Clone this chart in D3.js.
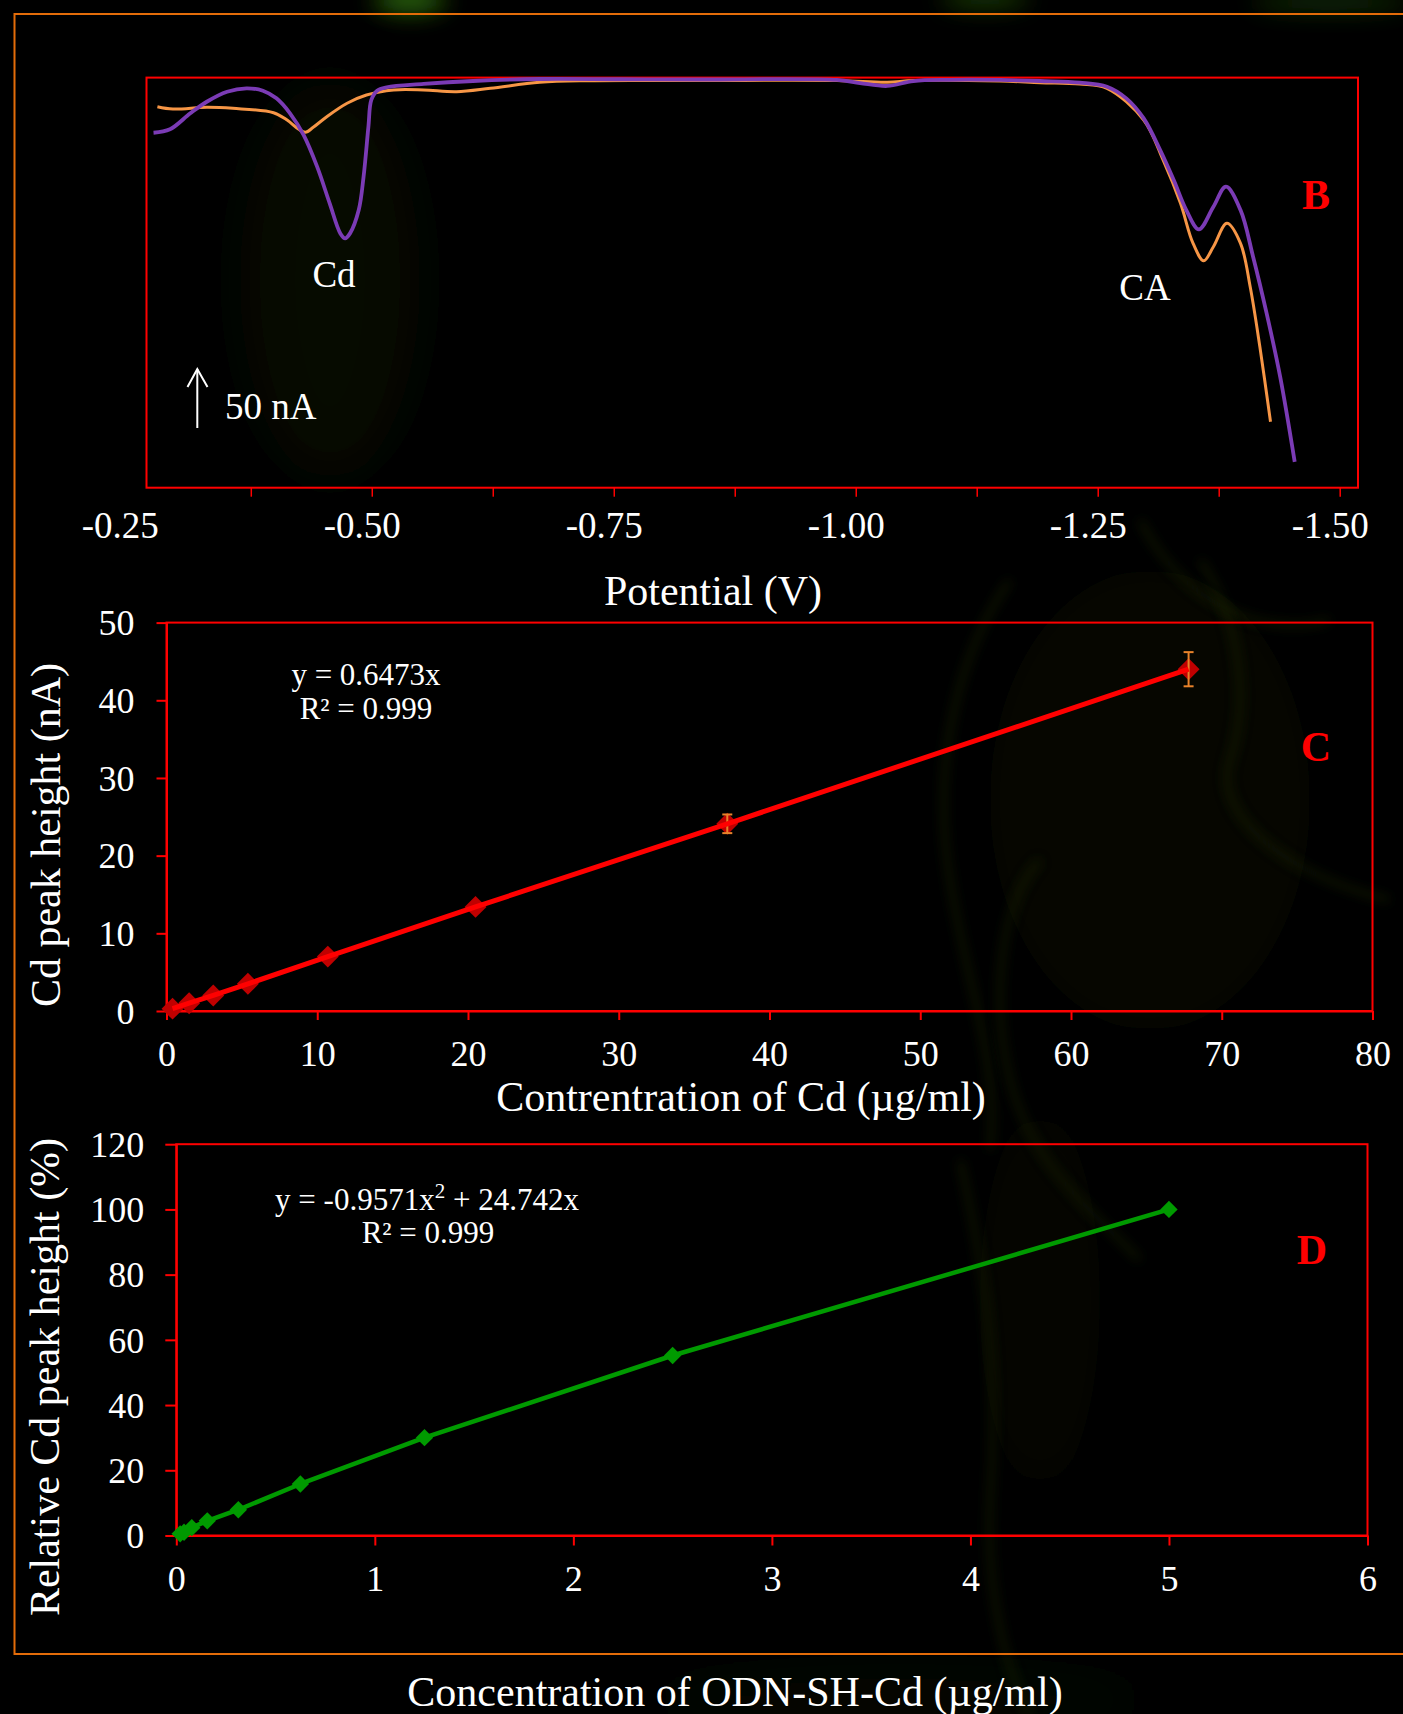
<!DOCTYPE html>
<html>
<head>
<meta charset="utf-8">
<script src="https://cdn.jsdelivr.net/npm/d3@7"></script>
<style>
  html, body { margin: 0; padding: 0; background: #000; }
  svg { display: block; }
  text { font-family: "Liberation Serif", "Times New Roman", Times, serif; }
</style>
</head>
<body>
<svg id="fig" width="1403" height="1714"></svg>
<script>
// ---------- Panel B: stripping voltammograms (potential in V, current in nA, baseline at 0) ----------
const controlPotential = [-0.278, -0.294, -0.329, -0.356, -0.398, -0.412, -0.424, -0.431, -0.439, -0.453,
  -0.474, -0.494, -0.522, -0.553, -0.587, -0.622, -0.673, -0.722, -0.839, -0.980, -1.032, -1.059, -1.149,
  -1.190, -1.231, -1.259, -1.297, -1.317, -1.335, -1.348, -1.359, -1.369, -1.383, -1.397, -1.407, -1.417, -1.428];
const controlCurrent = [-24.7, -26.7, -25.2, -26.1, -29.8, -36.0, -43.9, -46.4, -42.2, -33.2,
  -21.8, -14.8, -10.5, -10.5, -12.0, -9.1, -4.0, -2.6, -2.5, -2.5, -4.0, -2.5, -2.9,
  -4.3, -5.4, -9.1, -36.0, -69.9, -106.7, -140.7, -155.4, -143.5, -123.7, -140.7, -177.5, -228.4, -292.1];

const samplePotential = [-0.274, -0.291, -0.312, -0.329, -0.350, -0.370, -0.387, -0.401, -0.415, -0.429,
  -0.443, -0.456, -0.467, -0.472, -0.477, -0.486, -0.491, -0.496, -0.499, -0.505, -0.515, -0.553, -0.604,
  -0.673, -0.756, -0.839, -0.980, -1.004, -1.032, -1.059, -1.097, -1.149, -1.190, -1.231, -1.259, -1.279,
  -1.297, -1.314, -1.328, -1.341, -1.354, -1.369, -1.382, -1.397, -1.410, -1.424, -1.438, -1.453];
const sampleCurrent = [-46.8, -43.9, -30.3, -20.5, -12.0, -9.1, -11.1, -17.6, -30.3, -48.7,
  -75.6, -106.7, -132.2, -136.4, -132.2, -112.4, -84.1, -41.7, -19.0, -11.1, -8.2, -5.4, -2.9,
  -1.2, -1.4, -1.6, -2.0, -4.6, -7.1, -2.9, -1.9, -2.0, -2.9, -4.3, -7.7, -17.6,
  -34.6, -61.5, -86.9, -112.4, -128.8, -109.6, -92.6, -112.4, -152.0, -200.1, -253.9, -326.1];

const potentialTickLabels = [-0.25, -0.50, -0.75, -1.00, -1.25, -1.50];
const potentialTickMarks = [-0.375, -0.5, -0.625, -0.75, -0.875, -1.0, -1.125, -1.25, -1.375, -1.5];
const scaleBarCurrent = 50; // nA

// ---------- Panel C: Cd calibration ----------
const cdConcentration = [0.4, 1.5, 3.1, 5.4, 10.7, 20.5, 37.2, 67.8];
const cdPeakHeight    = [0.3, 1.0, 2.0, 3.5, 7.0, 13.4, 24.1, 44.0];
const cdPeakError     = [0, 0, 0, 0, 0, 0, 1.2, 2.2];
const cdXTicks = [0, 10, 20, 30, 40, 50, 60, 70, 80];
const cdYTicks = [0, 10, 20, 30, 40, 50];

// ---------- Panel D: ODN-SH-Cd calibration ----------
const odnConcentration = [0.0195, 0.039, 0.078, 0.156, 0.3125, 0.625, 1.25, 2.5, 5];
const relativePeak     = [0.5, 1.0, 2.4, 4.5, 7.9, 15.8, 30.0, 55.2, 100];
const odnXTicks = [0, 1, 2, 3, 4, 5, 6];
const odnYTicks = [0, 20, 40, 60, 80, 100, 120];

// ---------- colours ----------
const RED = "#ff0000";
const FRAME = "#e36c09";
const WHITE = "#ffffff";

const svg = d3.select("#fig");

// ---------- backdrop: black with faint green smoke ----------
svg.append("rect").attr("width", 1403).attr("height", 1714).attr("fill", "#000");
const defs = svg.append("defs");
defs.append("filter").attr("id", "soft").attr("filterUnits", "userSpaceOnUse")
  .attr("x", -200).attr("y", -200).attr("width", 1800).attr("height", 2100)
  .append("feGaussianBlur").attr("stdDeviation", 30);
defs.append("filter").attr("id", "glow").attr("filterUnits", "userSpaceOnUse")
  .attr("x", -200).attr("y", -200).attr("width", 1800).attr("height", 2100)
  .append("feGaussianBlur").attr("stdDeviation", 12);
defs.append("filter").attr("id", "softer").attr("filterUnits", "userSpaceOnUse")
  .attr("x", -200).attr("y", -200).attr("width", 1800).attr("height", 2100)
  .append("feGaussianBlur").attr("stdDeviation", 6);

const smoke = svg.append("g").attr("pointer-events", "none");
const topGlows = [
  { cx: 410, cy: 0, rx: 36, ry: 12, c: "#3a8a10", o: 0.8 },
  { cx: 985, cy: -2, rx: 45, ry: 9, c: "#2f7010", o: 0.6 },
  { cx: 1330, cy: 2, rx: 80, ry: 10, c: "#1e4a0a", o: 0.6 }
];
smoke.selectAll("ellipse.top").data(topGlows).join("ellipse").attr("class", "top")
  .attr("cx", d => d.cx).attr("cy", d => d.cy).attr("rx", d => d.rx).attr("ry", d => d.ry)
  .attr("fill", d => d.c).attr("opacity", d => d.o).attr("filter", "url(#glow)");
const hazeBlobs = [
  { cx: 330, cy: 280, rx: 90, ry: 200, c: "#0b1303", o: 0.5 },
  { cx: 1150, cy: 800, rx: 160, ry: 230, c: "#0a1003", o: 0.5 },
  { cx: 1040, cy: 1300, rx: 60, ry: 190, c: "#090f03", o: 0.45 },
  { cx: 900, cy: 1700, rx: 260, ry: 25, c: "#0c1604", o: 0.5 }
];
smoke.selectAll("ellipse.haze").data(hazeBlobs).join("ellipse").attr("class", "haze")
  .attr("cx", d => d.cx).attr("cy", d => d.cy).attr("rx", d => d.rx).attr("ry", d => d.ry)
  .attr("fill", d => d.c).attr("opacity", d => d.o).attr("filter", "url(#soft)");
// faint smoke outlines on the right
const smokeStrokes = [
  "M1010,580 C960,650 930,760 950,880 C965,980 1000,1060 990,1150",
  "M1040,860 C1000,900 990,1000 1010,1080 C1030,1160 1080,1200 1140,1260",
  "M1200,560 C1240,620 1250,700 1230,760 C1210,820 1300,880 1390,900",
  "M1140,520 C1180,600 1260,640 1330,620",
  "M960,1160 C980,1250 1000,1350 990,1500 C985,1600 1010,1680 1030,1714"
];
smoke.selectAll("path").data(smokeStrokes).join("path")
  .attr("d", d => d).attr("fill", "none").attr("stroke", "#243309").attr("stroke-width", 7)
  .attr("opacity", 0.4).attr("filter", "url(#softer)");

// outer orange frame (runs off the right edge)
svg.append("rect").attr("x", 14.5).attr("y", 14).attr("width", 1500).attr("height", 1640)
  .attr("fill", "none").attr("stroke", FRAME).attr("stroke-width", 2);

// diamond marker helper
const diamond = size => d3.symbol().type(d3.symbolSquare).size(size)();

// =====================================================================
// Panel B
// =====================================================================
const xB = d3.scaleLinear().domain([-0.25, -1.5]).range([130.3, 1340.2]);
const yB = d3.scaleLinear().domain([-348, 0]).range([487.7, 77.6]);
const gB = svg.append("g");

gB.append("rect").attr("x", 146.5).attr("y", yB(0)).attr("width", 1358 - 146.5).attr("height", yB(-348) - yB(0))
  .attr("fill", "none").attr("stroke", RED).attr("stroke-width", 2);

gB.selectAll("line.tick").data(potentialTickMarks).join("line").attr("class", "tick")
  .attr("x1", d => xB(d)).attr("x2", d => xB(d)).attr("y1", yB(-348)).attr("y2", yB(-348) + 9)
  .attr("stroke", RED).attr("stroke-width", 1.5);

gB.selectAll("text.tl").data(potentialTickLabels).join("text").attr("class", "tl")
  .attr("x", d => xB(d) - 10).attr("y", 538).attr("text-anchor", "middle")
  .attr("font-size", 37).attr("fill", WHITE).text(d => d.toFixed(2));

gB.append("text").attr("x", 713).attr("y", 605).attr("text-anchor", "middle")
  .attr("font-size", 42).attr("fill", WHITE).text("Potential (V)");

const traceLine = d3.line().x(d => xB(d[0])).y(d => yB(d[1])).curve(d3.curveCatmullRom.alpha(0.5));
gB.append("path").datum(d3.zip(controlPotential, controlCurrent)).attr("d", traceLine)
  .attr("fill", "none").attr("stroke", "#f79646").attr("stroke-width", 3).attr("stroke-linejoin", "round");
gB.append("path").datum(d3.zip(samplePotential, sampleCurrent)).attr("d", traceLine)
  .attr("fill", "none").attr("stroke", "#7b3bb5").attr("stroke-width", 3.8).attr("stroke-linejoin", "round");

gB.append("text").attr("x", 334).attr("y", 287).attr("text-anchor", "middle")
  .attr("font-size", 37).attr("fill", WHITE).text("Cd");
gB.append("text").attr("x", 1145).attr("y", 300).attr("text-anchor", "middle")
  .attr("font-size", 37).attr("fill", WHITE).text("CA");

// current scale bar: 50 nA, arrow pointing up
const barBottom = 428;
const barTop = barBottom - (yB(-scaleBarCurrent) - yB(0));
gB.append("line").attr("x1", 197.3).attr("x2", 197.3).attr("y1", barBottom).attr("y2", barTop)
  .attr("stroke", WHITE).attr("stroke-width", 2);
gB.append("path").attr("d", `M187.5,${barTop + 18} L197.3,${barTop} L207.5,${barTop + 18}`)
  .attr("fill", "none").attr("stroke", WHITE).attr("stroke-width", 2);
gB.append("text").attr("x", 225).attr("y", 419).attr("font-size", 37).attr("fill", WHITE)
  .text(`${scaleBarCurrent} nA`);

gB.append("text").attr("x", 1316).attr("y", 209).attr("text-anchor", "middle")
  .attr("font-size", 42).attr("font-weight", "bold").attr("fill", RED).text("B");

// =====================================================================
// Panel C
// =====================================================================
const xC = d3.scaleLinear().domain([0, 80]).range([166.5, 1372.5]);
const yC = d3.scaleLinear().domain([0, 50]).range([1011, 622.6]);
const gC = svg.append("g");

gC.append("rect").attr("x", xC(0)).attr("y", yC(50)).attr("width", xC(80) - xC(0)).attr("height", yC(0) - yC(50))
  .attr("fill", "none").attr("stroke", RED).attr("stroke-width", 2);

const axCx = gC.append("g").attr("transform", `translate(0,${yC(0)})`)
  .call(d3.axisBottom(xC).tickValues(cdXTicks).tickSize(9).tickSizeOuter(0).tickPadding(12));
const axCy = gC.append("g").attr("transform", `translate(${xC(0)},0)`)
  .call(d3.axisLeft(yC).tickValues(cdYTicks).tickSize(10).tickSizeOuter(0).tickPadding(22));

[axCx, axCy].forEach(ax => {
  ax.select(".domain").attr("stroke", RED).attr("stroke-width", 2);
  ax.selectAll(".tick line").attr("stroke", RED).attr("stroke-width", 2);
  ax.selectAll(".tick text").attr("fill", WHITE).attr("font-size", 36)
    .attr("font-family", "Liberation Serif, Times New Roman, serif");
});
axCx.selectAll(".tick text").attr("dy", null).attr("y", 55);
axCy.selectAll(".tick text").attr("dy", "0.34em");

gC.append("text").attr("x", 741).attr("y", 1111).attr("text-anchor", "middle")
  .attr("font-size", 42).attr("fill", WHITE).text("Contrentration of Cd (µg/ml)");
gC.append("text").attr("transform", "translate(60,835) rotate(-90)").attr("text-anchor", "middle")
  .attr("font-size", 42).attr("fill", WHITE).text("Cd peak height (nA)");

const cdPoints = d3.zip(cdConcentration, cdPeakHeight, cdPeakError);
gC.selectAll("path.mk").data(cdPoints).join("path").attr("class", "mk")
  .attr("d", diamond(240)).attr("transform", d => `translate(${xC(d[0])},${yC(d[1])}) rotate(45)`)
  .attr("fill", "#c00000");
const errC = gC.selectAll("g.err").data(cdPoints.filter(d => d[2] > 0)).join("g").attr("class", "err")
  .attr("stroke", "#e8822a").attr("stroke-width", 2);
errC.append("line").attr("x1", d => xC(d[0])).attr("x2", d => xC(d[0]))
  .attr("y1", d => yC(d[1] - d[2])).attr("y2", d => yC(d[1] + d[2]));
errC.append("line").attr("x1", d => xC(d[0]) - 5).attr("x2", d => xC(d[0]) + 5)
  .attr("y1", d => yC(d[1] + d[2])).attr("y2", d => yC(d[1] + d[2]));
errC.append("line").attr("x1", d => xC(d[0]) - 5).attr("x2", d => xC(d[0]) + 5)
  .attr("y1", d => yC(d[1] - d[2])).attr("y2", d => yC(d[1] - d[2]));
gC.append("path").datum(cdPoints).attr("d", d3.line().x(d => xC(d[0])).y(d => yC(d[1])))
  .attr("fill", "none").attr("stroke", RED).attr("stroke-width", 5).attr("stroke-linejoin", "round");

gC.append("text").attr("x", 366).attr("y", 685).attr("text-anchor", "middle")
  .attr("font-size", 31).attr("fill", WHITE).text("y = 0.6473x");
gC.append("text").attr("x", 366).attr("y", 719).attr("text-anchor", "middle")
  .attr("font-size", 31).attr("fill", WHITE).text("R² = 0.999");
gC.append("text").attr("x", 1316).attr("y", 761).attr("text-anchor", "middle")
  .attr("font-size", 42).attr("font-weight", "bold").attr("fill", RED).text("C");

// =====================================================================
// Panel D
// =====================================================================
const xD = d3.scaleLinear().domain([0, 6]).range([176.3, 1367.5]);
const yD = d3.scaleLinear().domain([0, 120]).range([1535.5, 1144.2]);
const gD = svg.append("g");

gD.append("rect").attr("x", xD(0)).attr("y", yD(120)).attr("width", xD(6) - xD(0)).attr("height", yD(0) - yD(120))
  .attr("fill", "none").attr("stroke", RED).attr("stroke-width", 2);

const axDx = gD.append("g").attr("transform", `translate(0,${yD(0)})`)
  .call(d3.axisBottom(xD).tickValues(odnXTicks).tickSize(10).tickSizeOuter(0).tickFormat(d3.format("d")));
const axDy = gD.append("g").attr("transform", `translate(${xD(0)},0)`)
  .call(d3.axisLeft(yD).tickValues(odnYTicks).tickSize(11).tickSizeOuter(0).tickPadding(21));

[axDx, axDy].forEach(ax => {
  ax.select(".domain").attr("stroke", RED).attr("stroke-width", 2);
  ax.selectAll(".tick line").attr("stroke", RED).attr("stroke-width", 2);
  ax.selectAll(".tick text").attr("fill", WHITE).attr("font-size", 36)
    .attr("font-family", "Liberation Serif, Times New Roman, serif");
});
axDx.selectAll(".tick text").attr("dy", null).attr("y", 55);
axDy.selectAll(".tick text").attr("dy", "0.34em");

gD.append("text").attr("x", 735).attr("y", 1706).attr("text-anchor", "middle")
  .attr("font-size", 42).attr("fill", WHITE).text("Concentration of ODN-SH-Cd (µg/ml)");
gD.append("text").attr("transform", "translate(59,1377) rotate(-90)").attr("text-anchor", "middle")
  .attr("font-size", 42).attr("fill", WHITE).text("Relative Cd peak height (%)");

const odnPoints = d3.zip(odnConcentration, relativePeak);
gD.append("path").datum(odnPoints).attr("d", d3.line().x(d => xD(d[0])).y(d => yD(d[1])))
  .attr("fill", "none").attr("stroke", "#009a00").attr("stroke-width", 4.5).attr("stroke-linejoin", "round");
gD.selectAll("path.mk").data(odnPoints).join("path").attr("class", "mk")
  .attr("d", diamond(150)).attr("transform", d => `translate(${xD(d[0])},${yD(d[1])}) rotate(45)`)
  .attr("fill", "#009a00");

const eqD = gD.append("text").attr("x", 427).attr("y", 1210).attr("text-anchor", "middle")
  .attr("font-size", 31).attr("fill", WHITE);
eqD.append("tspan").text("y = -0.9571x");
eqD.append("tspan").attr("font-size", 21).attr("dy", -12).text("2");
eqD.append("tspan").attr("dy", 12).text(" + 24.742x");
gD.append("text").attr("x", 428).attr("y", 1243).attr("text-anchor", "middle")
  .attr("font-size", 31).attr("fill", WHITE).text("R² = 0.999");
gD.append("text").attr("x", 1312).attr("y", 1264).attr("text-anchor", "middle")
  .attr("font-size", 42).attr("font-weight", "bold").attr("fill", RED).text("D");
</script>
</body>
</html>
